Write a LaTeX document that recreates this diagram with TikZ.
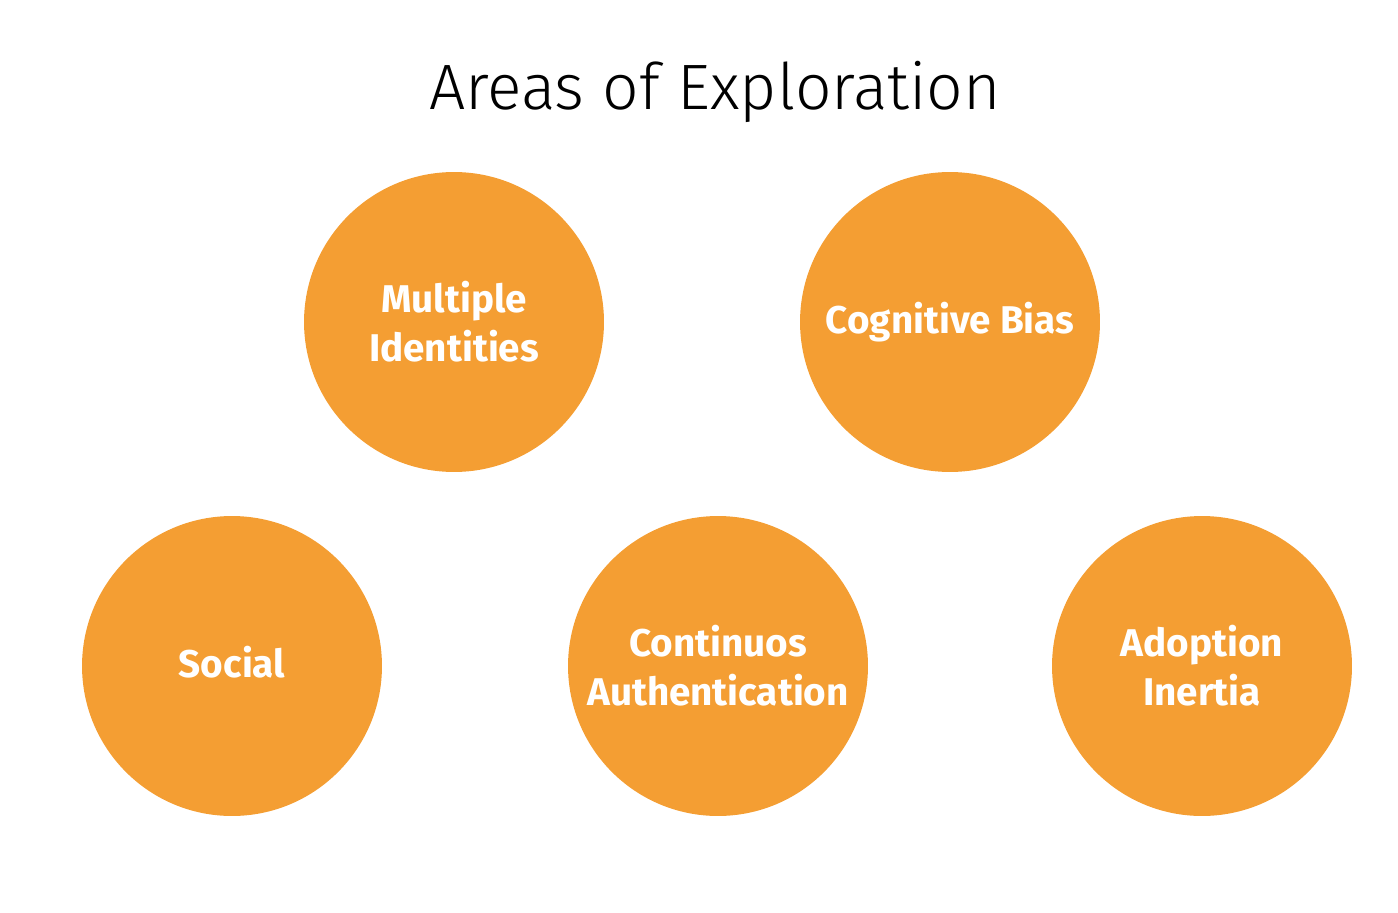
\documentclass[tikz,border=0pt]{standalone}
\usepackage{fontspec}
\setmainfont{Fira Sans}
\newfontfamily\titlefont{Fira Sans Light}
\definecolor{orangefill}{HTML}{F49E33}
\begin{document}
\begin{tikzpicture}[x=0.02cm,y=-0.02cm,
  area/.style={circle, fill=orangefill, minimum size=6cm, inner sep=0pt, text=white, align=center,
    font=\fontsize{22}{28}\selectfont\bfseries}]
\useasboundingbox (0,0) rectangle (1398,912);
\node[anchor=base] (title) at (715,110) {\titlefont\fontsize{36.5}{42}\selectfont Areas of Exploration};
\node[area] (multi) at (454,322) {Multiple\\Identities};
\node[area] (cog) at (950,322) {Cognitive Bias};
\node[area] (social) at (232,666) {Social\vphantom{g}};
\node[area] (cont) at (718,666) {Continuos\\Authentication};
\node[area] (adopt) at (1202,666) {Adoption\\Inertia};
\end{tikzpicture}
\end{document}
